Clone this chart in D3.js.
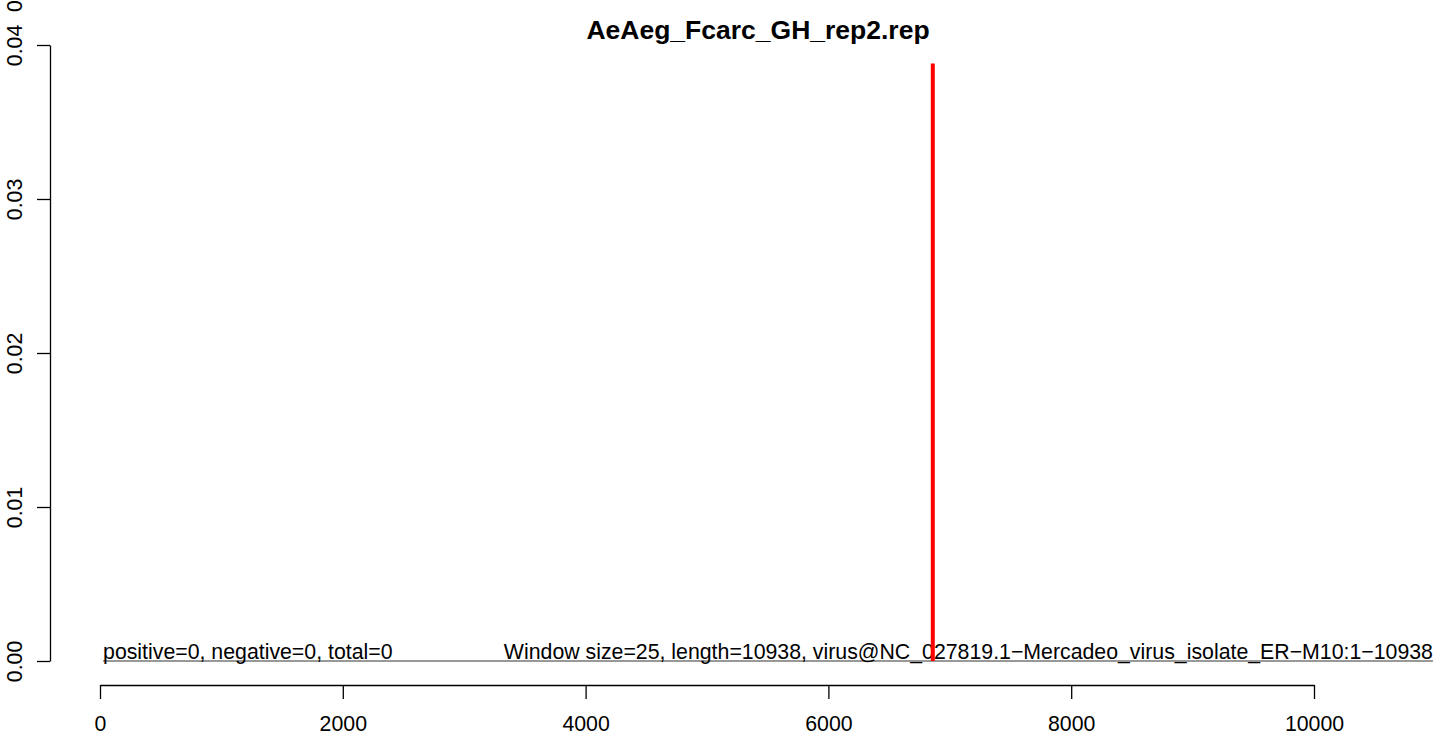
<!DOCTYPE html>
<html>
<head>
<meta charset="utf-8">
<script src="https://cdn.jsdelivr.net/npm/d3@7"></script>
<style>
  html, body { margin: 0; padding: 0; background: #fff; }
  svg { display: block; font-family: "Liberation Sans", Arial, sans-serif; }
</style>
</head>
<body>
<svg id="chart" width="1439" height="736"></svg>
<script>
// Coverage profile data
const title = "AeAeg_Fcarc_GH_rep2.rep";
const xTicks = [0, 2000, 4000, 6000, 8000, 10000];
const yTicks = [0.00, 0.01, 0.02, 0.03, 0.04];
const yTickLabels = ["0.00", "0.01", "0.02", "0.03", "0.04"];
const baselinePos = [25, 10980];
const baselineVal = [0, 0];
const peakPos = [6860];
const peakVal = [0.0388];
const leftNote = "positive=0, negative=0, total=0";
const rightNote = "Window size=25, length=10938, virus@NC_027819.1\u2212Mercadeo_virus_isolate_ER\u2212M10:1\u221210938";

const FS = 21.3;
const svg = d3.select("#chart");
const x = d3.scaleLinear().domain([0, 10000]).range([100, 1314]);
const y = d3.scaleLinear().domain([0, 0.04]).range([661, 45]);

// Title
svg.append("text")
  .attr("x", 758).attr("y", 39)
  .attr("text-anchor", "middle")
  .attr("font-size", 26.5).attr("font-weight", "bold")
  .text(title);

// Y axis
const yAxis = d3.axisLeft(y).tickValues(yTicks)
  .tickFormat((d, i) => yTickLabels[i]).tickSize(13).tickSizeOuter(0);
const gy = svg.append("g").attr("transform", "translate(50,0)").call(yAxis);
gy.attr("font-size", FS).attr("font-family", "Liberation Sans, Arial, sans-serif");
gy.select(".domain").attr("stroke", "#000").attr("stroke-width", 1.3);
gy.selectAll(".tick line").attr("stroke", "#000").attr("stroke-width", 1.3);
gy.selectAll(".tick text")
  .attr("fill", "#000")
  .attr("text-anchor", "middle")
  .attr("x", 0).attr("y", 0)
  .attr("dy", "0.35em")
  .attr("transform", "translate(-35,0) rotate(-90)");

// Extra label at the top edge (partly outside the page)
svg.append("text")
  .attr("transform", "translate(15,6) rotate(-90)")
  .attr("dy", "0.35em")
  .attr("text-anchor", "middle")
  .attr("font-size", FS)
  .text("0");

// X axis
const xAxis = d3.axisBottom(x).tickValues(xTicks)
  .tickFormat(d3.format("d")).tickSize(14).tickSizeOuter(0);
const gx = svg.append("g").attr("transform", "translate(0,685)").call(xAxis);
gx.attr("font-size", FS).attr("font-family", "Liberation Sans, Arial, sans-serif");
gx.select(".domain").attr("stroke", "#000").attr("stroke-width", 1.3);
gx.selectAll(".tick line").attr("stroke", "#000").attr("stroke-width", 1.3);
gx.selectAll(".tick text")
  .attr("fill", "#000")
  .attr("y", 46).attr("dy", 0);

// Zero baseline
const line = d3.line().x(d => x(d[0])).y(d => y(d[1]));
svg.append("path")
  .datum(baselinePos.map((p, i) => [p, baselineVal[i]]))
  .attr("d", line)
  .attr("fill", "none").attr("stroke", "#333").attr("stroke-width", 1);

// Notes on the baseline
svg.append("text")
  .attr("x", x(baselinePos[0])).attr("y", 659)
  .attr("font-size", FS).attr("fill", "#000")
  .text(leftNote);
svg.append("text")
  .attr("x", x(baselinePos[1])).attr("y", 659)
  .attr("text-anchor", "end")
  .attr("font-size", FS).attr("fill", "#000")
  .text(rightNote);

// Peak
svg.selectAll("line.peak")
  .data(peakPos.map((p, i) => [p, peakVal[i]]))
  .join("line")
  .attr("class", "peak")
  .attr("x1", d => x(d[0])).attr("x2", d => x(d[0]))
  .attr("y1", y(0)).attr("y2", d => y(d[1]))
  .attr("stroke", "#ff0000").attr("stroke-width", 4);
</script>
</body>
</html>
